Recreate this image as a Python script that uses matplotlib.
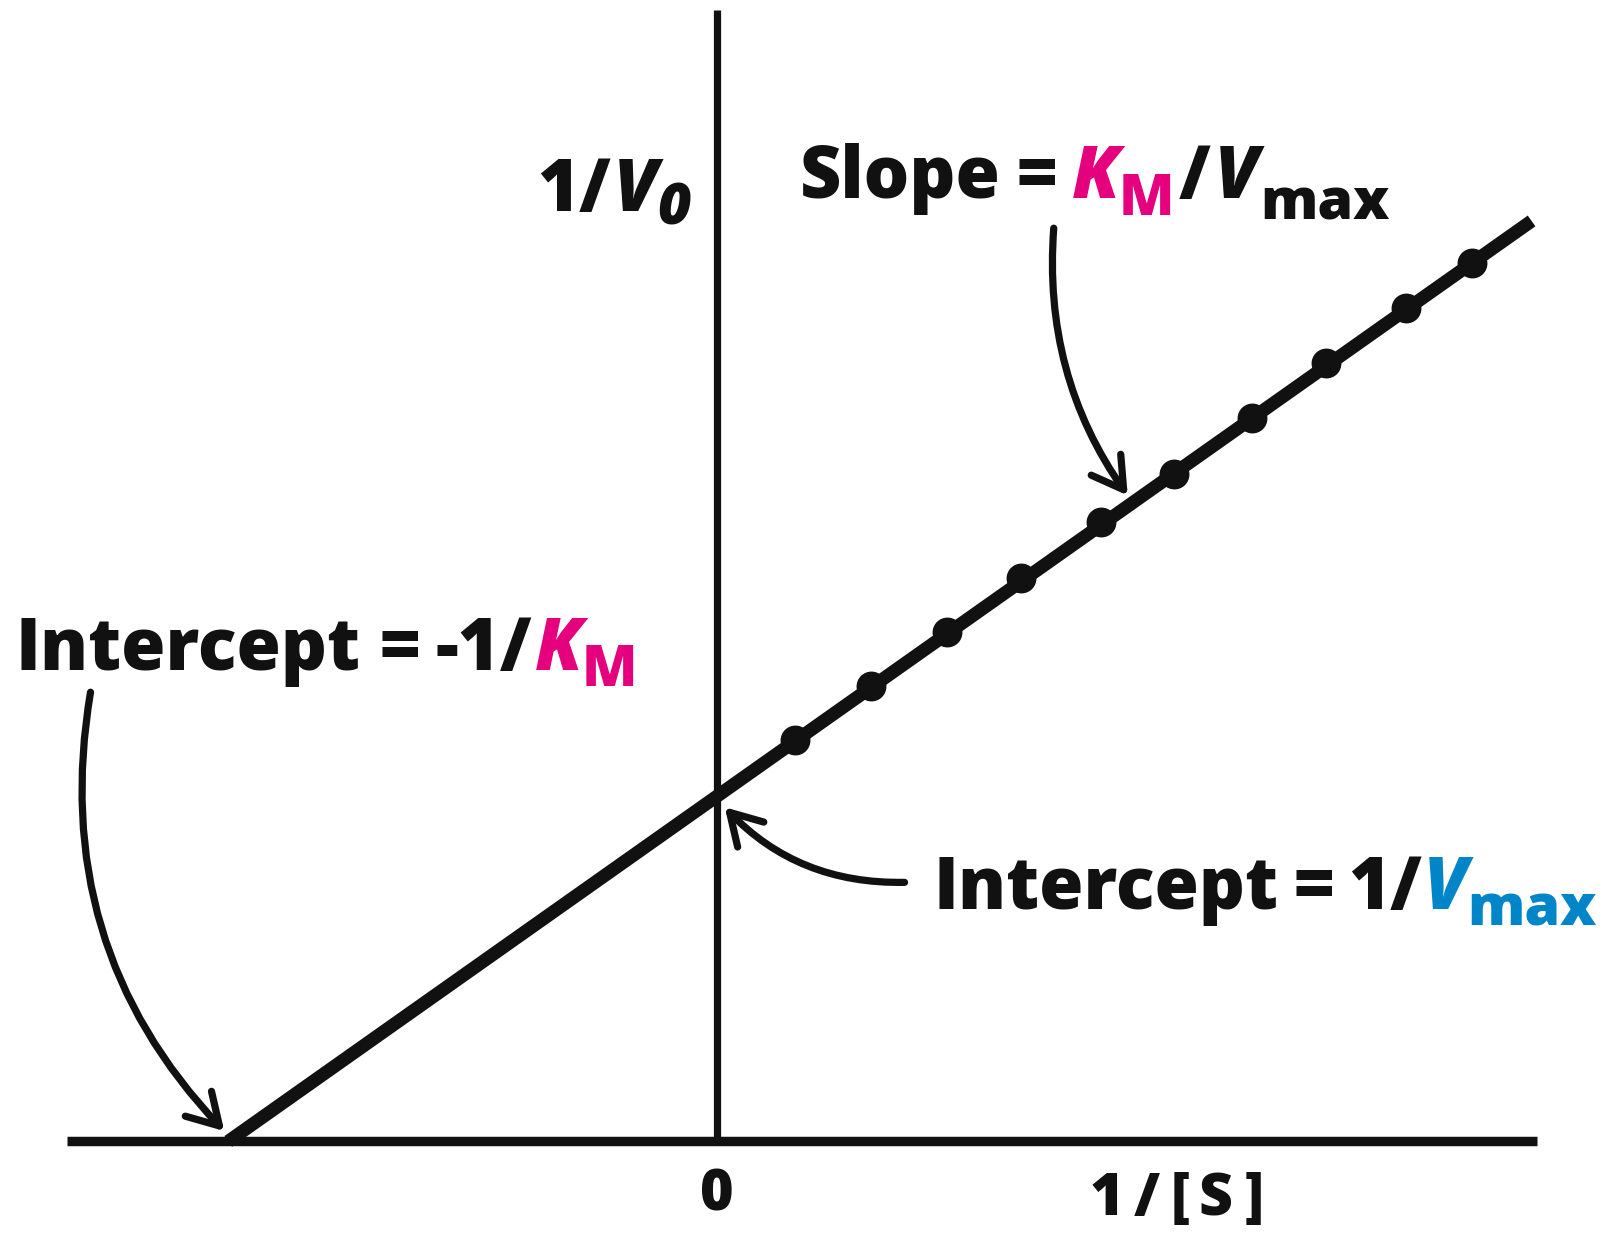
import matplotlib
matplotlib.use("Agg")
import matplotlib.pyplot as plt
from matplotlib.transforms import IdentityTransform

# ---------------- data (Lineweaver-Burk plot) ----------------
inv_s = [0.160, 0.316, 0.472, 0.623, 0.787, 0.937, 1.097, 1.248, 1.411, 1.547]
inv_v = [1.164, 1.322, 1.478, 1.636, 1.797, 1.937, 2.101, 2.260, 2.418, 2.549]
fit_x = [-1.0, 1.669]
fit_y = [0.0, 2.672]
x_axis_range = [-1.331, 1.68]
y_axis_range = [0.0, 3.284]
x_ticks = [0]
x_tick_labels = ["0"]

PINK = "#E5007E"
BLUE = "#0086C8"
INK = "#111111"
FONT = ["Open Sans", "DejaVu Sans"]
WEIGHT = 800

FIG_W, FIG_H = 1612, 1236
REF_W, REF_H = 1568, 1202
K = FIG_W / REF_W

fig = plt.figure(figsize=(FIG_W / 100, FIG_H / 100), dpi=100)
ax = fig.add_axes([0, 0, 1, 1])
ax.set_xlim(-697 / 475, (REF_W - 697) / 475)
ax.set_ylim((1110 - REF_H) / 335, 1110 / 335)
ax.set_facecolor("white")

# axes as spines through the origin
for s in ("top", "right"):
    ax.spines[s].set_visible(False)
ax.spines["left"].set_position(("data", 0))
ax.spines["bottom"].set_position(("data", 0))
ax.spines["left"].set_bounds(*y_axis_range)
ax.spines["bottom"].set_bounds(*x_axis_range)
ax.spines["left"].set_linewidth(5.2)
ax.spines["bottom"].set_linewidth(6.8)
for s in ("left", "bottom"):
    ax.spines[s].set_color(INK)
    ax.spines[s].set_capstyle("butt")
ax.set_yticks([])

renderer = fig.canvas.get_renderer()
probe = fig.text(0, 0, "Intercept", fontsize=50, fontweight=WEIGHT, family=FONT,
                 transform=IdentityTransform())
FS = 1.05 * 50 * (320 * K) / probe.get_window_extent(renderer).width
probe.remove()

ax.set_xticks(x_ticks, x_tick_labels)
ax.tick_params(axis="x", length=0, pad=19, labelsize=FS * 0.8, labelcolor=INK)
for lab in ax.get_xticklabels():
    lab.set_fontweight(WEIGHT)
    lab.set_family(FONT)

# fitted line and data points
ax.plot(fit_x, fit_y, color=INK, lw=9.5, solid_capstyle="butt", zorder=3)
ax.plot(inv_s, inv_v, "o", color=INK, ms=20.5, zorder=4)


def rich(x, y, runs, size):
    X, Y = x * K, FIG_H - y * FIG_H / REF_H
    for text, color, style, scale, shift, gap in runs:
        X += gap * K
        t = fig.text(X, Y - shift * K, text, transform=IdentityTransform(),
                     fontsize=size * scale, color=color, fontstyle=style,
                     fontweight=WEIGHT, family=FONT, ha="left", va="baseline")
        X += t.get_window_extent(renderer).width


SUB = 0.8
rich(522, 205, [("1/", INK, "normal", 1, 0, 0),
                ("V", INK, "italic", 1, 0, 3),
                ("0", INK, "italic", SUB, 13, 0)], FS)
rich(778, 193, [("Slope", INK, "normal", 1, 0, 0),
                ("=", INK, "normal", 1, 0, 15),
                ("K", PINK, "italic", 1, 0, 15),
                ("M", PINK, "normal", SUB, 16, -1),
                ("/", INK, "normal", 1, 0, 4),
                ("V", INK, "italic", 1, 0, 4),
                ("max", INK, "normal", SUB, 20, 1)], FS)
rich(15, 652, [("Intercept", INK, "normal", 1, 0, 0),
               ("=", INK, "normal", 1, 0, 19),
               ("-1/", INK, "normal", 1, 0, 15),
               ("K", PINK, "italic", 1, 0, 2),
               ("M", PINK, "normal", SUB, 15, -1)], FS)
rich(908, 884, [("Intercept", INK, "normal", 1, 0, 0),
                ("=", INK, "normal", 1, 0, 15),
                ("1/", INK, "normal", 1, 0, 13),
                ("V", BLUE, "italic", 1, 0, 2),
                ("max", BLUE, "normal", SUB, 16, -1)], FS)
rich(1060, 1182, [("1", INK, "normal", 0.82, 0, 0),
                  ("/", INK, "normal", 0.82, 0, 9),
                  ("[", INK, "normal", 0.82, 0, 11),
                  ("S", INK, "normal", 0.82, 0, 8),
                  ("]", INK, "normal", 0.82, 0, 12)], FS)

# curved arrows
arrow_kw = dict(arrowstyle="->,head_length=1.1,head_width=0.65", color=INK,
                lw=5.2, shrinkA=0, shrinkB=0, mutation_scale=20)
ax.annotate("", xy=(0.842, 1.875), xytext=(0.6905, 2.651),
            arrowprops=dict(connectionstyle="arc3,rad=0.18", **arrow_kw))
ax.annotate("", xy=(-1.008, 0.030), xytext=(-1.282, 1.304),
            arrowprops=dict(connectionstyle="arc3,rad=0.25", **arrow_kw))
ax.annotate("", xy=(0.0168, 0.970), xytext=(0.385, 0.752),
            arrowprops=dict(connectionstyle="arc3,rad=-0.22", **arrow_kw))

fig.savefig("out.png", dpi=100, facecolor="white")
